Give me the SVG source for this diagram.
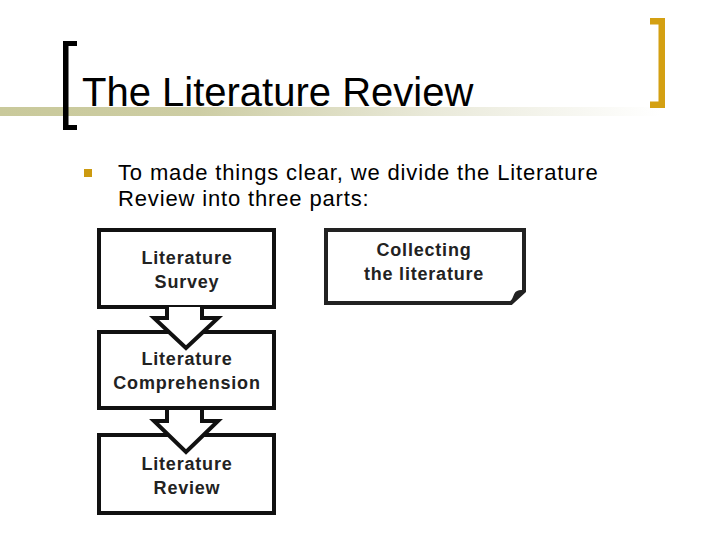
<svg xmlns="http://www.w3.org/2000/svg" width="720" height="540" viewBox="0 0 720 540">
<defs>
<linearGradient id="band" x1="0" y1="0" x2="1" y2="0">
<stop offset="0" stop-color="#C9C99B"/>
<stop offset="0.3" stop-color="#CDCDA4"/>
<stop offset="0.65" stop-color="#E9E9D9"/>
<stop offset="1" stop-color="#FFFFFF"/>
</linearGradient>
<style>
.box{fill:#fff;stroke:#111;stroke-width:4}
.arr{fill:#fff;stroke:none}
.arrl{fill:none;stroke:#111;stroke-width:4;stroke-linejoin:miter}
.lbl{font-family:"Liberation Sans",Arial,sans-serif;font-weight:bold;font-size:18px;fill:#222;text-anchor:middle;letter-spacing:0.8px}
.body{font-family:"Liberation Sans",Arial,sans-serif;font-size:22px;fill:#000;letter-spacing:0.85px}
</style>
</defs>
<rect width="720" height="540" fill="#fff"/>
<g id="header">
<rect x="0" y="107" width="660" height="9" fill="url(#band)"/>
<path d="M63,41 H77 V46 H68.5 V125 H77 V130 H63 Z" fill="#000"/>
<path d="M650,18 H665 V108 H650 V101.5 H658.5 V24.5 H650 Z" fill="#D4A012"/>
<text x="82" y="106" font-family="'Liberation Sans',Arial,sans-serif" font-size="40" fill="#000">The Literature Review</text>
</g>
<g id="bullet">
<rect x="84" y="169" width="8" height="8" fill="#CC9A10"/>
<text class="body" x="118" y="180">To made things clear, we divide the Literature</text>
<text class="body" x="118" y="206">Review into three parts:</text>
</g>
<g id="survey">
<rect class="box" x="99" y="230" width="175" height="77"/>
<text class="lbl" x="187" y="264">Literature</text>
<text class="lbl" x="187" y="288">Survey</text>
</g>
<g id="comprehension">
<rect class="box" x="99" y="332" width="175" height="76"/>
<text class="lbl" x="187" y="365">Literature</text>
<text class="lbl" x="187" y="389">Comprehension</text>
</g>
<g id="review">
<rect class="box" x="99" y="435" width="175" height="78"/>
<text class="lbl" x="187" y="470">Literature</text>
<text class="lbl" x="187" y="494">Review</text>
</g>
<g id="collecting">
<path d="M326,230 H524 V291 L511,303 H326 Z" fill="#fff" stroke="#222" stroke-width="4" stroke-linejoin="miter"/>
<path d="M511,303 L524,291 Q517,290 515,294 Q513,299 511,303 Z" fill="#222" stroke="#222" stroke-width="1.5"/>
<text class="lbl" x="424" y="256">Collecting</text>
<text class="lbl" x="424" y="280">the literature</text>
</g>
<g id="connectors">
<path class="arr" d="M167,307 V318 H154 L186,348 L218,318 H202 V307 Z"/>
<path class="arrl" d="M167,307 V318 H154 L186,348 L218,318 H202 V307"/>
<path class="arr" d="M167,410 V421 H154 L186,452 L218,421 H202 V410 Z"/>
<path class="arrl" d="M167,410 V421 H154 L186,452 L218,421 H202 V410"/>
</g>
</svg>
